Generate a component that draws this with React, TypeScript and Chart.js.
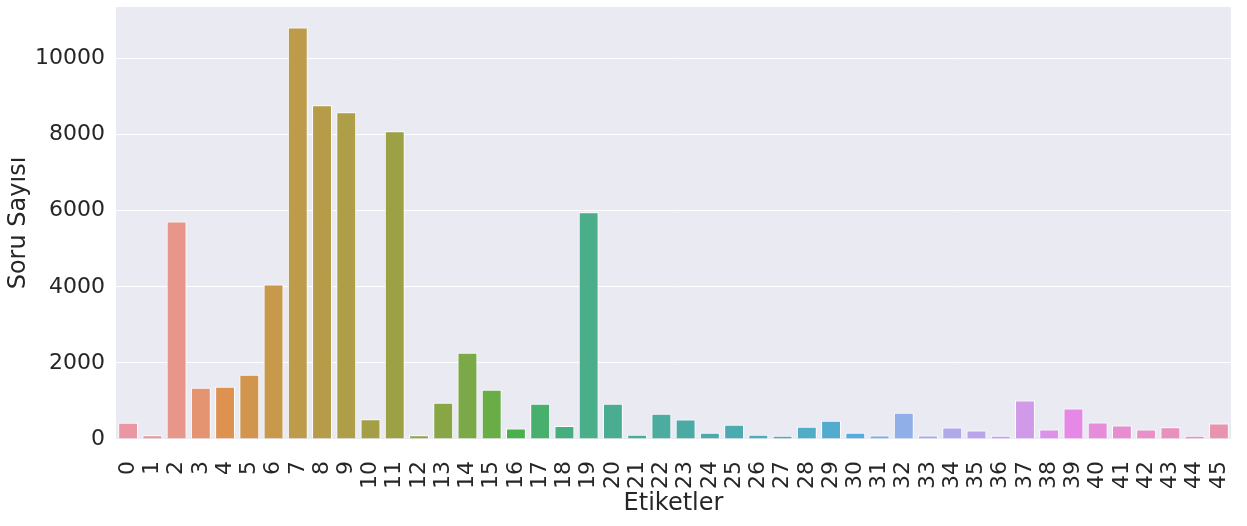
import React, { useEffect, useRef } from "react";
import { Chart, registerables } from "chart.js";

Chart.register(...registerables);

const categories: string[] = [
  "0", "1", "2", "3", "4", "5", "6", "7", "8", "9", "10", "11", "12", "13", "14", "15",
  "16", "17", "18", "19", "20", "21", "22", "23", "24", "25", "26", "27", "28", "29", "30",
  "31", "32", "33", "34", "35", "36", "37", "38", "39", "40", "41", "42", "43", "44", "45",
];

const counts: number[] = [
  430, 100, 5720, 1350, 1375, 1690, 4060, 10815, 8770, 8590, 520, 8090, 100, 950, 2270, 1295,
  275, 925, 345, 5960, 925, 110, 665, 515, 165, 375, 110, 85, 320, 480, 165,
  90, 690, 90, 300, 225, 85, 1010, 250, 800, 435, 355, 250, 310, 85, 410,
];

const yTickValues: number[] = [0, 2000, 4000, 6000, 8000, 10000];
const xTitle = "Etiketler";
const yTitle = "Soru Sayısı";

// seaborn husl palette (h=0.01, s=0.9, l=0.7), then barplot saturation 0.75
const M = [
  [3.2406, -1.5372, -0.4986],
  [-0.9689, 1.8758, 0.0415],
  [0.0557, -0.204, 1.057],
];
const refU = 0.19784;
const refV = 0.46834;
const labE = 0.008856;
const labK = 903.3;

function maxChroma(L: number, H: number): number {
  const hrad = (H * Math.PI) / 180;
  const sinH = Math.sin(hrad);
  const cosH = Math.cos(hrad);
  const sub1 = Math.pow(L + 16, 3) / 1560896;
  const sub2 = sub1 > labE ? sub1 : L / labK;
  let result = Infinity;
  for (const [m1, m2, m3] of M) {
    const top = (0.99915 * m1 + 1.05122 * m2 + 1.1446 * m3) * sub2;
    const rbottom = 0.8633 * m3 - 0.17266 * m2;
    const lbottom = 0.12949 * m3 - 0.38848 * m1;
    const bottom = (rbottom * sinH + lbottom * cosH) * sub2;
    for (const t of [0, 1]) {
      const C = (L * (top - 1.05122 * t)) / (bottom + 0.17266 * sinH * t);
      if (C > 0 && C < result) result = C;
    }
  }
  return result;
}

function huslToRgb(H: number, S: number, L: number): number[] {
  const C = (maxChroma(L, H) / 100) * S;
  const hrad = (H * Math.PI) / 180;
  const U = Math.cos(hrad) * C;
  const V = Math.sin(hrad) * C;
  const t = (L + 16) / 116;
  const varY = Math.pow(t, 3) > labE ? Math.pow(t, 3) : (116 * t - 16) / labK;
  const varU = U / (13 * L) + refU;
  const varV = V / (13 * L) + refV;
  const Y = varY;
  const X = 0 - (9 * Y * varU) / ((varU - 4) * varV - varU * varV);
  const Z = (9 * Y - 15 * varV * Y - varV * X) / (3 * varV);
  return M.map(([a, b, c]) => {
    const lin = a * X + b * Y + c * Z;
    const v = lin <= 0.0031308 ? 12.92 * lin : 1.055 * Math.pow(lin, 1 / 2.4) - 0.055;
    return Math.min(1, Math.max(0, v));
  });
}

function desaturate(rgb: number[], prop: number): string {
  const [r, g, b] = rgb;
  const mx = Math.max(r, g, b);
  const mn = Math.min(r, g, b);
  const l = (mx + mn) / 2;
  let h = 0;
  let s = 0;
  if (mx !== mn) {
    const d = mx - mn;
    s = l <= 0.5 ? d / (mx + mn) : d / (2 - mx - mn);
    if (mx === r) h = ((g - b) / d) % 6;
    else if (mx === g) h = (b - r) / d + 2;
    else h = (r - g) / d + 4;
    h /= 6;
    if (h < 0) h += 1;
  }
  s *= prop;
  const hue2 = (p: number, q: number, tt: number) => {
    let x = tt;
    if (x < 0) x += 1;
    if (x > 1) x -= 1;
    if (x < 1 / 6) return p + (q - p) * 6 * x;
    if (x < 1 / 2) return q;
    if (x < 2 / 3) return p + (q - p) * (2 / 3 - x) * 6;
    return p;
  };
  let out: number[];
  if (s === 0) out = [l, l, l];
  else {
    const q = l < 0.5 ? l * (1 + s) : l + s - l * s;
    const p = 2 * l - q;
    out = [hue2(p, q, h + 1 / 3), hue2(p, q, h), hue2(p, q, h - 1 / 3)];
  }
  const c = out.map((v) => Math.round(Math.min(1, Math.max(0, v)) * 255));
  return `rgb(${c[0]}, ${c[1]}, ${c[2]})`;
}

function barPalette(n: number): string[] {
  const out: string[] = [];
  for (let i = 0; i < n; i++) {
    const h = (((i / n) + 0.01) % 1) * 359;
    out.push(desaturate(huslToRgb(h, 0.9 * 99, 0.7 * 99), 0.75));
  }
  return out;
}

const TEXT = "#262626";
const FONT = "'DejaVu Sans', sans-serif";

const bgPlugin = {
  id: "plotBg",
  beforeDraw(chart: any) {
    const { ctx, chartArea } = chart;
    ctx.save();
    ctx.fillStyle = "#eaeaf2";
    ctx.fillRect(chartArea.left, chartArea.top, chartArea.right - chartArea.left, chartArea.bottom - chartArea.top);
    ctx.restore();
  },
};

export default function App() {
  const ref = useRef<HTMLCanvasElement | null>(null);

  useEffect(() => {
    if (!ref.current) return;
    const colors = barPalette(categories.length);
    const chart = new Chart(ref.current, {
      type: "bar",
      data: {
        labels: categories,
        datasets: [
          {
            data: counts,
            backgroundColor: colors,
            borderColor: "#ffffff",
            borderWidth: 1,
            borderSkipped: "start",
            barPercentage: 1,
            categoryPercentage: 0.82,
          },
        ],
      },
      options: {
        animation: false,
        responsive: true,
        maintainAspectRatio: false,
        layout: { padding: { left: 0, right: 16, top: 7, bottom: 0 } },
        plugins: {
          legend: { display: false },
          tooltip: { enabled: false },
        },
        scales: {
          x: {
            grid: { display: false },
            border: { display: false },
            ticks: {
              autoSkip: false,
              minRotation: 90,
              maxRotation: 90,
              padding: 14,
              color: TEXT,
              font: { family: FONT, size: 22 },
            },
            title: {
              display: true,
              text: xTitle,
              color: TEXT,
              font: { family: FONT, size: 24 },
              padding: { top: 0, bottom: 8 },
            },
            afterFit(scale: any) {
              scale.height = 87;
              scale.paddingLeft = 0;
              scale.paddingRight = 0;
            },
          },
          y: {
            min: 0,
            max: Math.max(...counts) * 1.05,
            grid: { color: "#ffffff", lineWidth: 1, drawTicks: false },
            border: { display: false },
            ticks: {
              padding: 11,
              color: TEXT,
              font: { family: FONT, size: 22 },
              callback: (v: any) => String(v),
            },
            afterBuildTicks(scale: any) {
              scale.ticks = yTickValues.map((v) => ({ value: v }));
            },
            title: {
              display: true,
              text: yTitle,
              color: TEXT,
              font: { family: FONT, size: 24 },
              padding: { top: 4, bottom: 0 },
            },
            afterFit(scale: any) {
              scale.width = 116;
              scale.paddingTop = 0;
              scale.paddingBottom = 0;
            },
          },
        },
      },
      plugins: [bgPlugin],
    });
    return () => chart.destroy();
  }, []);

  return (
    <div style={{ position: "absolute", left: 0, top: 0, width: 1247, height: 526, background: "#ffffff" }}>
      <canvas ref={ref} />
    </div>
  );
}
